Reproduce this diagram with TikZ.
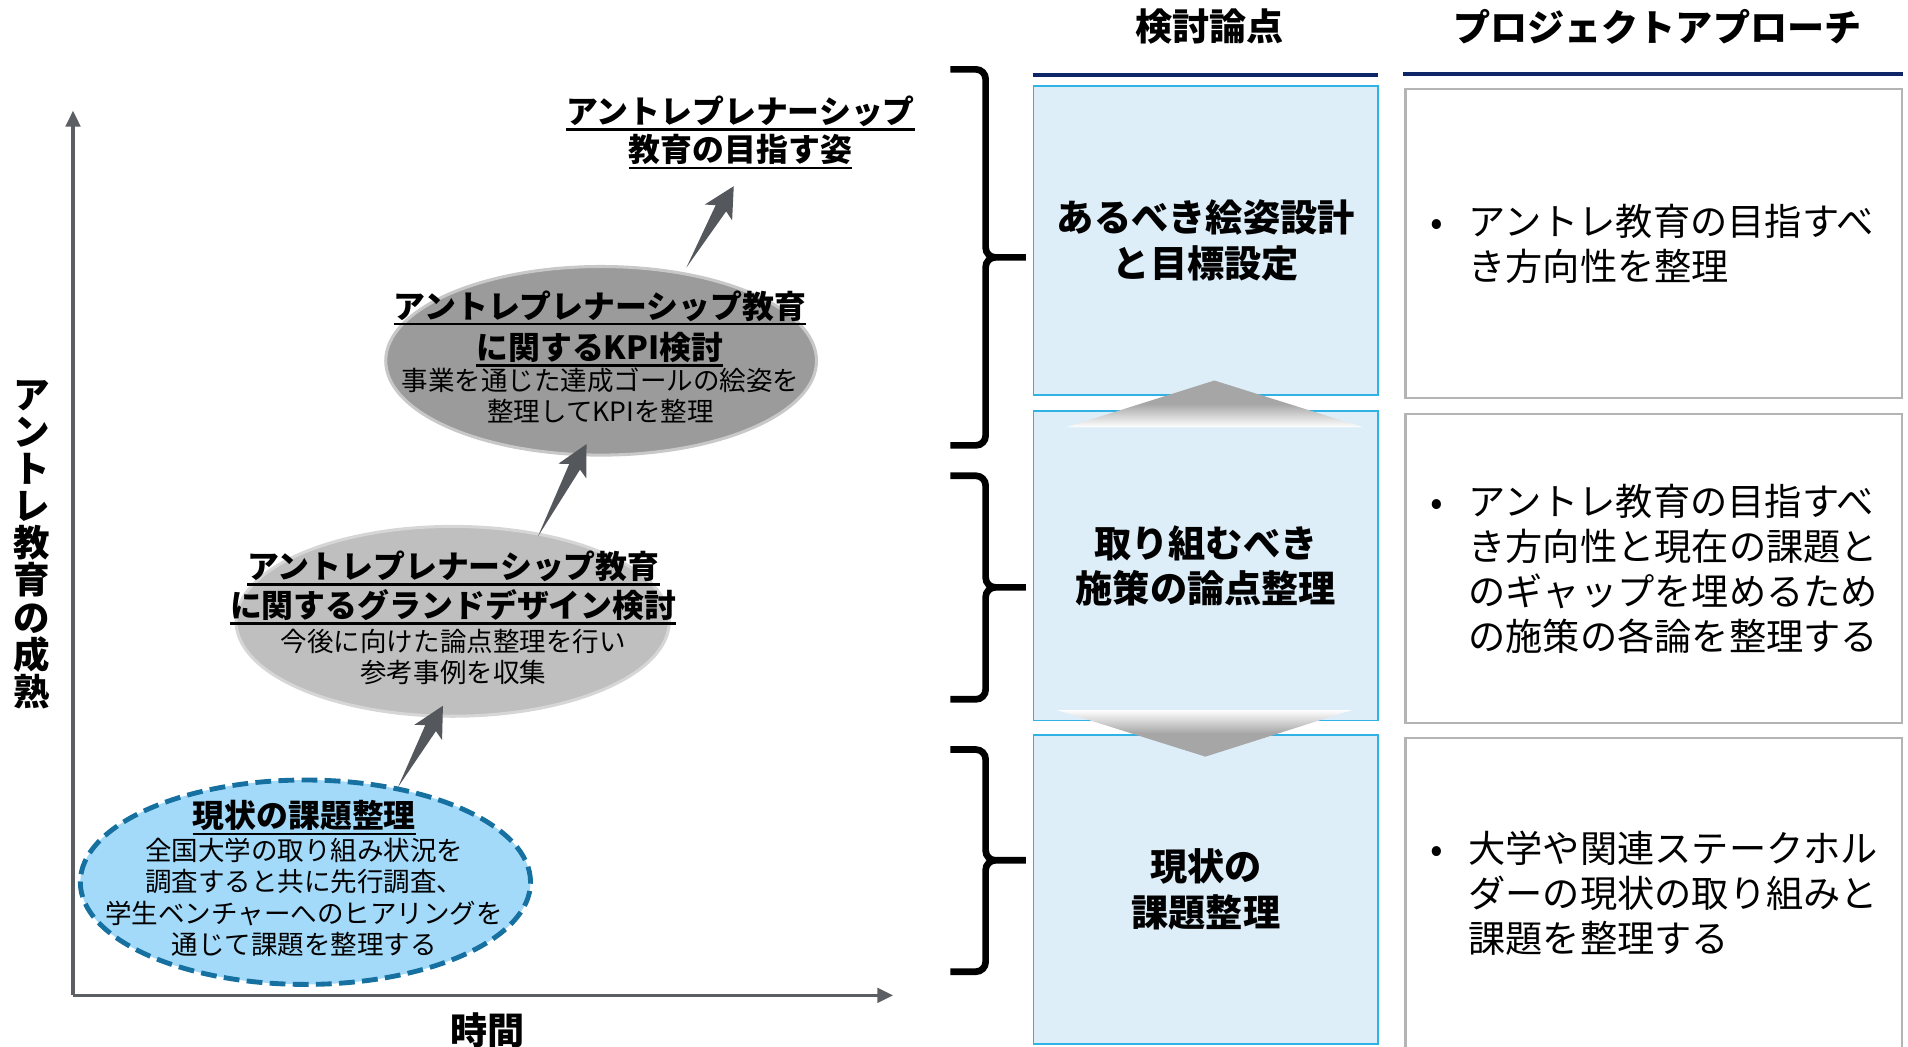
\documentclass[tikz,border=0pt]{standalone}
\usepackage{fontspec}
\setmainfont{Noto Sans CJK JP}
\usepackage{tikz}
\usetikzlibrary{arrows.meta}
\usetikzlibrary{shapes.geometric}
\usetikzlibrary{calc}

\definecolor{nowblue}{RGB}{163,218,250}
\definecolor{nowdash}{RGB}{22,112,160}
\definecolor{gdgray}{RGB}{191,191,191}
\definecolor{gdrim}{RGB}{214,214,214}
\definecolor{kpigray}{RGB}{155,155,155}
\definecolor{kpirim}{RGB}{200,200,200}
\definecolor{arrowgray}{RGB}{84,87,91}
\definecolor{axisgray}{RGB}{91,94,98}
\definecolor{boxfill}{RGB}{221,238,249}
\definecolor{boxedge}{RGB}{48,178,228}
\definecolor{appedge}{RGB}{180,180,180}
\definecolor{navyline}{RGB}{14,38,104}
\definecolor{trigray}{RGB}{166,166,166}

% underlined line of a heading
\newcommand\ulin[1]{\leavevmode\setbox0\hbox{#1}\rlap{\rule[-6pt]{\wd0}{2pt}}\box0}
% tapering arrow from #1 to #2
\newcommand\risearrow[2]{%
  \path ($(#2)!21pt!(#1)$) coordinate (rh) ($(#2)!25pt!(#1)$) coordinate (rb);
  \fill[arrowgray] (#1) -- ($(rh)!5pt!90:(#2)$) -- ($(rb)!13pt!90:(#2)$) -- (#2)
    -- ($(rb)!13pt!-90:(#2)$) -- ($(rh)!5pt!-90:(#2)$) -- cycle;}
% right brace: top, tip, bottom
\newcommand\sidebrace[3]{%
  \draw[curly] (781,#1) -- (810,#1) -- (810,#2) -- (843,#2)
    (843,#2) -- (810,#2) -- (810,#3) -- (781,#3);}

\begin{document}
\begin{tikzpicture}[x=1pt, y=-1pt,
    ellnode/.style={ellipse, inner sep=0pt},
    ttl/.style={font=\bfseries\fontsize{26.2}{32}\selectfont, align=center},
    body/.style={font=\fontsize{21.8}{25.8}\selectfont, align=center},
    hdr/.style={font=\bfseries\fontsize{30.5}{36}\selectfont},
    vlab/.style={font=\bfseries\fontsize{30}{30.5}\selectfont, align=center},
    pointbox/.style={draw=boxedge, fill=boxfill, line width=1.2pt, minimum width=283pt,
      minimum height=254pt, inner sep=0pt, align=center, font=\bfseries\fontsize{30.6}{37.5}\selectfont},
    appbox/.style={draw=appedge, line width=2pt, minimum height=254pt, text width=408pt,
      inner xsep=0pt, align=left, font=\fontsize{30.6}{37}\selectfont},
    curly/.style={line width=5.5pt, rounded corners=8pt},
    axisline/.style={draw=axisgray, line width=2.5pt, -{Triangle[length=13pt, width=12pt]}},
    navy/.style={draw=navyline, line width=3pt}]
\useasboundingbox (0,0) rectangle (1568,860);

% axes
\coordinate (origin) at (60,818);
\coordinate (ytip) at (60,91);
\coordinate (xtip) at (734,818);
\draw[axisline] (origin) -- (ytip);
\draw[axisline] (origin) -- (xtip);
\node[vlab] (ylab) at (26,447.5) {ア\\ン\\ト\\レ\\教\\育\\の\\成\\熟};
\node[hdr] (xlab) at (401,847) {時間};

% stages
\node[ellnode, fill=nowblue, draw=nowdash, line width=4pt, dash pattern=on 13pt off 6pt,
  minimum width=370pt, minimum height=168pt] (ell1) at (251,725) {};
\node[ellnode, fill=gdgray, draw=gdrim, line width=2.5pt,
  minimum width=356pt, minimum height=156pt] (ell2) at (372,510.6) {};
\node[ellnode, fill=kpigray, draw=kpirim, line width=2.5pt,
  minimum width=354pt, minimum height=155pt] (ell3) at (494,296.5) {};

\node[ttl] (nowtitle) at (250,672) {\ulin{現状の課題整理}};
\node[body] (nowbody) at (250,737.5) {全国大学の取り組み状況を\\調査すると共に先行調査、\\学生ベンチャーへのヒアリングを\\通じて課題を整理する};
\node[ttl] (gdtitle) at (372.5,483) {\ulin{アントレプレナーシップ教育}\\\ulin{に関するグランドデザイン検討}};
\node[body] (gdbody) at (372.5,540) {今後に向けた論点整理を行い\\参考事例を収集};
\node[ttl, font=\bfseries\fontsize{26.2}{34}\selectfont] (kpititle) at (493,270) {\ulin{アントレプレナーシップ教育}\\\ulin{に関するKPI検討}};
\node[body] (kpibody) at (493.5,325) {事業を通じた達成ゴールの絵姿を\\整理してKPIを整理};
\node[ttl, font=\bfseries\fontsize{26.2}{31.5}\selectfont] (goal) at (608.5,109) {\ulin{アントレプレナーシップ}\\\ulin{教育の目指す姿}};

\coordinate (a1s) at (327,647);
\coordinate (a1e) at (364,580);
\coordinate (a2s) at (442,441);
\coordinate (a2e) at (482,365);
\coordinate (a3s) at (564,220);
\coordinate (a3e) at (603,153);
\risearrow{a1s}{a1e}
\risearrow{a2s}{a2e}
\risearrow{a3s}{a3e}

% braces
\sidebrace{57}{211.5}{366}
\sidebrace{391}{482.7}{574.7}
\sidebrace{616}{707}{798.5}

% columns
\node[hdr] (hdr1) at (994,22) {検討論点};
\node[hdr] (hdr2) at (1362,22) {プロジェクトアプローチ};
\draw[navy] (848.6,61.7) -- (1132.5,61.7);
\draw[navy] (1153,60.8) -- (1564,60.8);

\node[pointbox] (pt1) at (991,197.6) {あるべき絵姿設計\\と目標設定};
\node[pointbox] (pt2) at (991,464.9) {取り組むべき\\施策の論点整理};
\node[pointbox] (pt3) at (991,731.1) {現状の\\課題整理};

\shade[top color=trigray, bottom color=white, middle color=trigray]
  (998,312.7) -- (1120,351) -- (876.5,351) -- cycle;
\shade[top color=white, bottom color=trigray, middle color=trigray]
  (868.7,583.5) -- (1111,583.5) -- (990.6,621.8) -- cycle;

\node[appbox] (app1) at (1358.9,200.2) {\makebox[51.8pt]{•}アントレ教育の目指すべ\\\hspace*{51.8pt}き方向性を整理};
\node[appbox] (app2) at (1358.9,467.3) {\makebox[51.8pt]{•}アントレ教育の目指すべ\\\hspace*{51.8pt}き方向性と現在の課題と\\\hspace*{51.8pt}のギャップを埋めるため\\\hspace*{51.8pt}の施策の各論を整理する};
\node[appbox, minimum height=255.5pt] (app3) at (1358.9,734.25) {\makebox[51.8pt]{•}大学や関連ステークホル\\\hspace*{51.8pt}ダーの現状の取り組みと\\\hspace*{51.8pt}課題を整理する};
\end{tikzpicture}
\end{document}
